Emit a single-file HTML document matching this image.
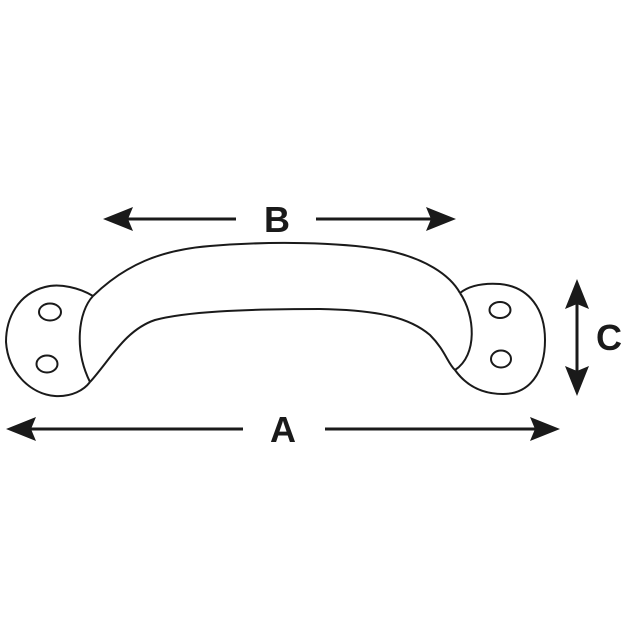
<!DOCTYPE html>
<html><head><meta charset="utf-8"><style>html,body{margin:0;padding:0;background:#fff}svg{display:block}</style></head>
<body>
<svg width="640" height="640" viewBox="0 0 640 640" xmlns="http://www.w3.org/2000/svg">
<g fill="none" stroke="#1a1a1a" stroke-width="2">
<path d="M93,296 C80,288 60,283 45,287 C18,294 6,318 6,342 C8,372 30,394 55,396 C72,397 84,390 90,382"/>
<path d="M93,296 C78,312 74,350 90,382"/>
<ellipse cx="50" cy="312" rx="11" ry="8.5"/>
<ellipse cx="47" cy="364" rx="10.5" ry="8.5"/>
<path d="M93,296 C125,265 160,250 210,246 C270,241 340,242 385,250 C425,258 450,275 460,293"/>
<path d="M90,382 C110,360 125,330 155,320 C185,312 240,309 320,309 C380,310 410,318 430,335 C445,350 448,364 455,370"/>
<path d="M460,293 C470,285 485,283 500,284 C530,287 545,310 545,340 C545,372 530,394 503,394 C480,394 465,384 455,370"/>
<path d="M460,293 C475,315 478,355 455,370"/>
<ellipse cx="500" cy="310" rx="10.5" ry="8"/>
<ellipse cx="501" cy="359" rx="10" ry="8.5"/>
</g>
<g stroke="#1a1a1a" stroke-width="3">
<line x1="120" y1="219" x2="236" y2="219"/>
<line x1="316" y1="219" x2="440" y2="219"/>
<line x1="20" y1="429" x2="243" y2="429"/>
<line x1="325" y1="429" x2="545" y2="429"/>
<line x1="577" y1="295" x2="577" y2="380"/>
</g>
<g fill="#1a1a1a">
<path d="M103,219 L133,207 L128,219 L133,231 Z"/>
<path d="M456,219 L426,207 L431,219 L426,231 Z"/>
<path d="M6,429 L36,417 L31,429 L36,441 Z"/>
<path d="M560,429 L530,417 L535,429 L530,441 Z"/>
<path d="M577,279 L565,309 L577,304 L589,309 Z"/>
<path d="M577,396 L565,366 L577,371 L589,366 Z"/>
</g>
<g font-family="Liberation Sans, sans-serif" font-weight="bold" fill="#1a1a1a" text-anchor="middle">
<text x="277" y="232" font-size="36">B</text>
<text x="283" y="442" font-size="36">A</text>
<text x="609" y="350" font-size="36">C</text>
</g>
</svg>
</body></html>
